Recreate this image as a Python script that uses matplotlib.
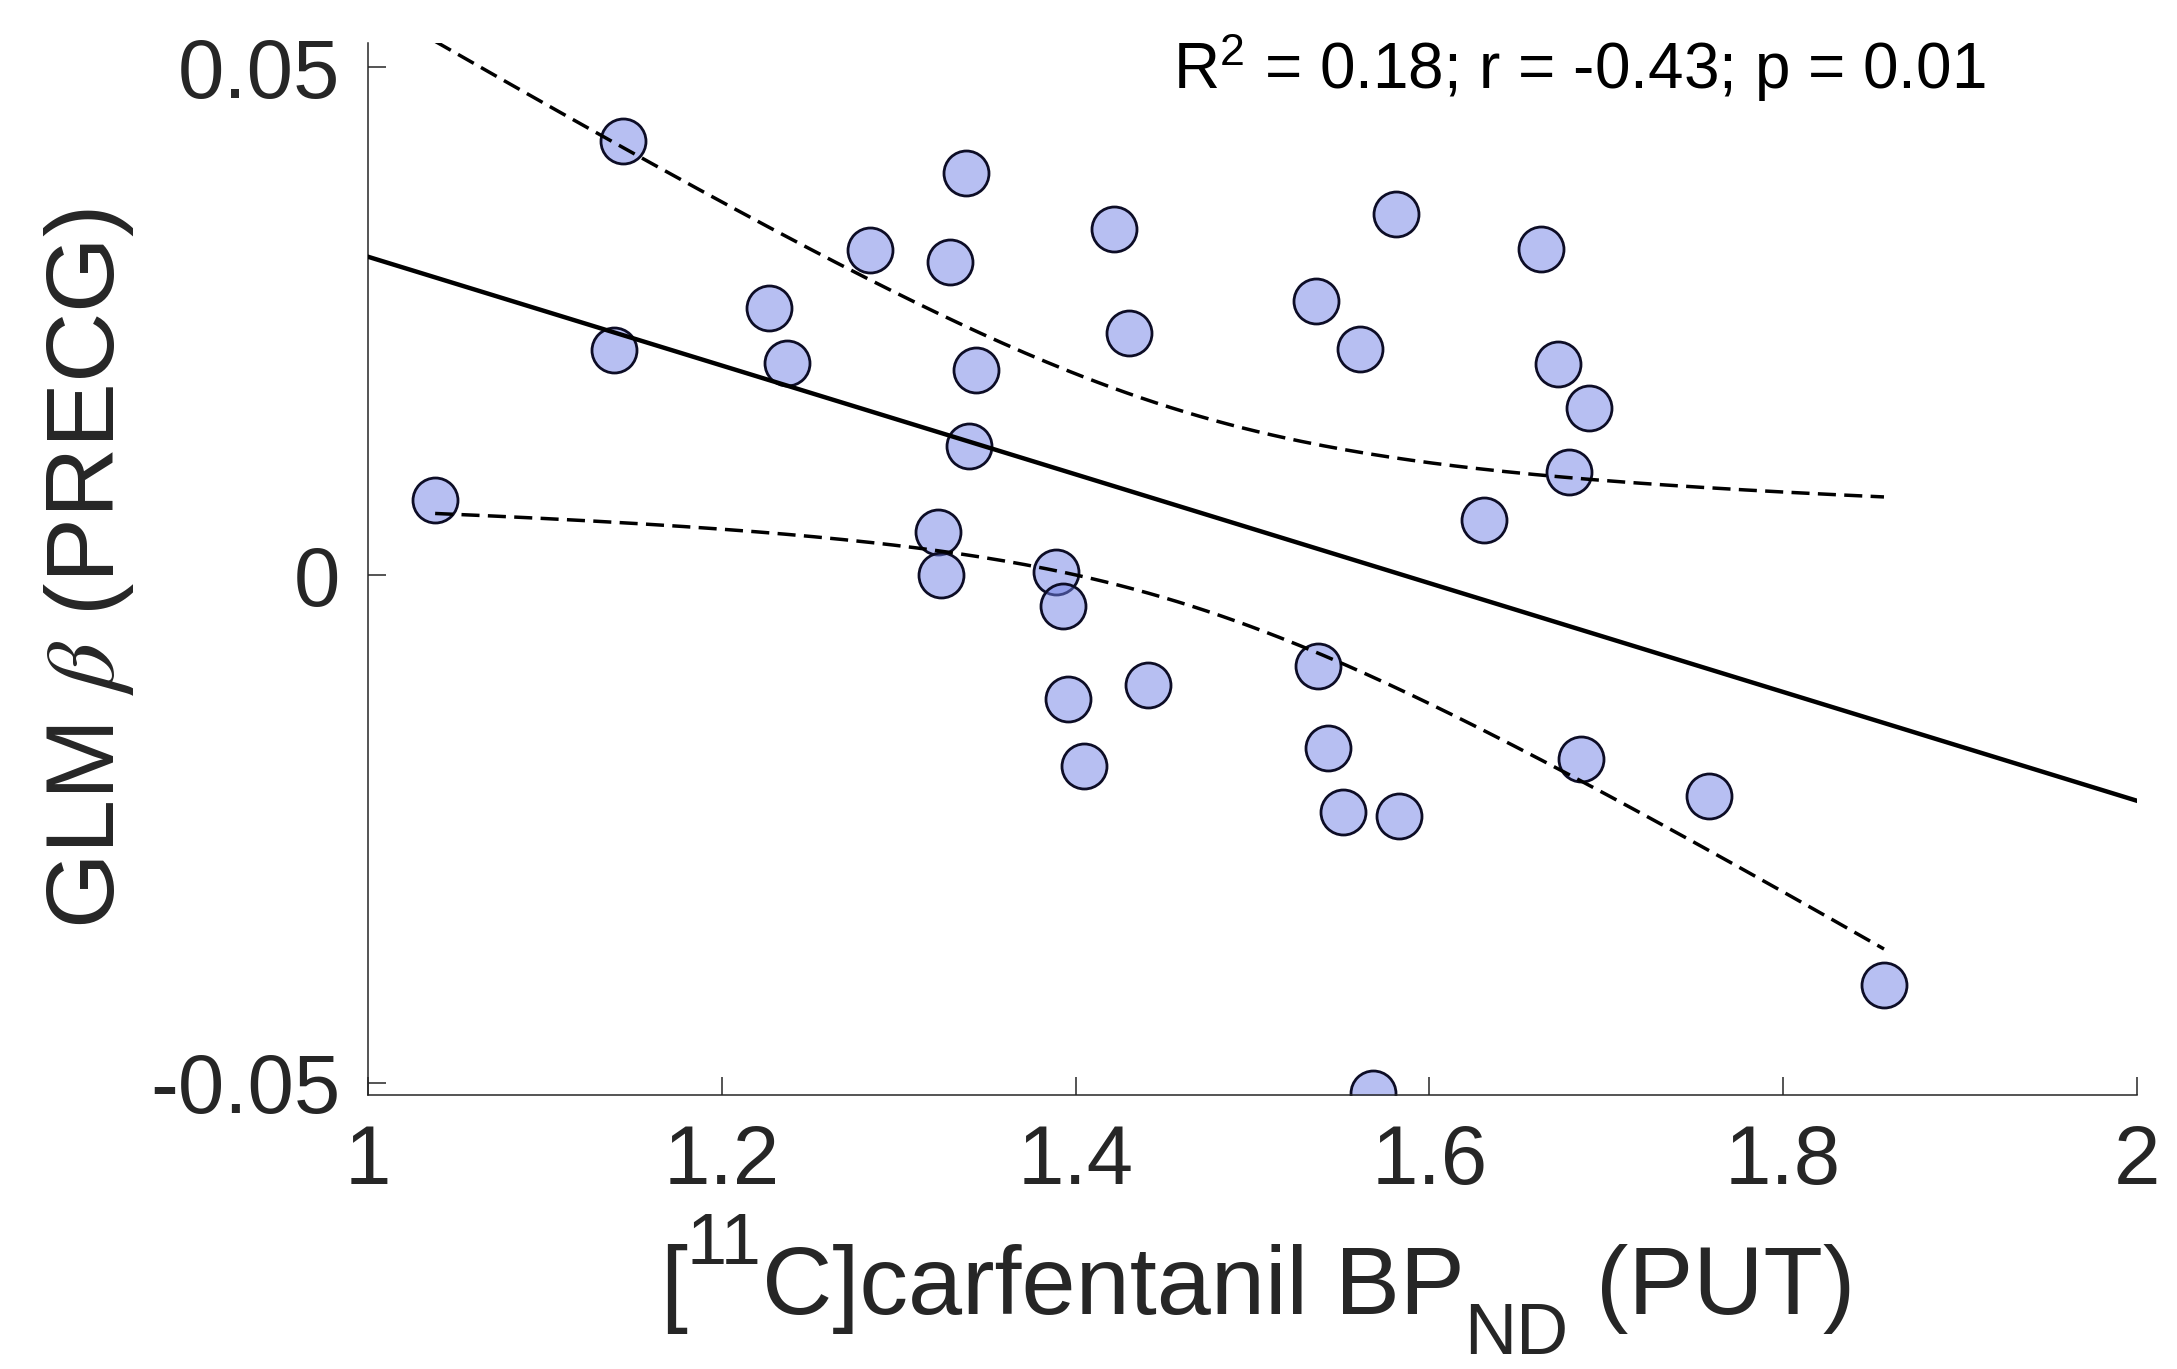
import numpy as np
import matplotlib
matplotlib.use("Agg")
import matplotlib.pyplot as plt

plt.rcParams['font.family'] = ['Liberation Sans', 'DejaVu Sans']
plt.rcParams['mathtext.fontset'] = 'stix'

# [11C]carfentanil BPND (PUT) vs GLM beta (PRECG)
bp_put = [1.038, 1.144, 1.139, 1.227, 1.237, 1.284, 1.338, 1.329, 1.344, 1.340,
          1.322, 1.324, 1.422, 1.430, 1.389, 1.393, 1.396, 1.405, 1.441, 1.581,
          1.536, 1.561, 1.537, 1.543, 1.551, 1.583, 1.568, 1.663, 1.673, 1.690,
          1.679, 1.631, 1.686, 1.758, 1.857]
glm_beta = [0.0074, 0.0427, 0.0222, 0.0263, 0.0209, 0.0320, 0.0396, 0.0308, 0.0202, 0.0127,
            0.0042, 0.0000, 0.0341, 0.0238, 0.0003, -0.0030, -0.0122, -0.0188, -0.0108, 0.0356,
            0.0270, 0.0223, -0.0090, -0.0170, -0.0233, -0.0237, -0.0510, 0.0321, 0.0208, 0.0165,
            0.0101, 0.0054, -0.0181, -0.0218, -0.0404]
stats_text = 'R$\\mathregular{^2}$ = 0.18; r = -0.43; p = 0.01'
x_ticks = [1, 1.2, 1.4, 1.6, 1.8, 2]
y_ticks = [-0.05, 0, 0.05]
y_ticklabels = ['-0.05', '0', '0.05']
# x label pieces: (text, size, vertical shift in points)
xlabel_parts = [('[', 70, 0), ('11', 52, 36), ('C]carfentanil BP', 70, 0),
                ('ND', 52, -29), (' (PUT)', 70, 0)]

x = np.array(bp_put)
y = np.array(glm_beta)

# least squares fit + simultaneous 95% confidence band (like fitlm's plot)
slope, icpt = np.polyfit(x, y, 1)
n = len(x)
resid = y - (slope * x + icpt)
s = np.sqrt(np.sum(resid ** 2) / (n - 2))
sxx = np.sum((x - x.mean()) ** 2)
w95 = np.sqrt(2 * 3.285)   # sqrt(2*F(0.95, 2, n-2))
xs = np.linspace(x.min(), x.max(), 200)
half = w95 * s * np.sqrt(1.0 / n + (xs - x.mean()) ** 2 / sxx)

fig = plt.figure(figsize=(21.77, 13.69), dpi=100)
ax = fig.add_axes([0.1690, 0.2002, 0.8126, 0.7684])

ax.scatter(x, y, s=1050, facecolors=[(0.44, 0.50, 0.90, 0.5)],
           edgecolors='#0d0d26', linewidths=2.0, zorder=2)

xl = np.array([1.0, 2.0])
ax.plot(xl, slope * xl + icpt, color='black', lw=3.2, zorder=3)
ax.plot(xs, slope * xs + icpt + half, color='black', lw=2.5, dashes=(5.2, 2.4), zorder=3)
ax.plot(xs, slope * xs + icpt - half, color='black', lw=2.5, dashes=(5.2, 2.4), zorder=3)

ax.set_xlim(1, 2)
ax.set_ylim(-0.0512, 0.0524)
ax.set_xticks(x_ticks)
ax.set_xticklabels(['1', '1.2', '1.4', '1.6', '1.8', '2'])
ax.set_yticks(y_ticks)
ax.set_yticklabels(y_ticklabels)

for side in ['top', 'right']:
    ax.spines[side].set_visible(False)
for side in ['left', 'bottom']:
    ax.spines[side].set_color('#262626')
    ax.spines[side].set_linewidth(1.1)
ax.tick_params(direction='in', length=13, width=1.1, color='#262626',
               labelsize=60, labelcolor='#262626', pad=20)

ax.set_ylabel('GLM $\\beta$ (PRECG)', fontsize=70, color='#262626')
ax.yaxis.set_label_coords(-0.131, 0.5)

# x label built piece by piece so sub/superscripts sit like MATLAB's
base_y = 55 / 1369.0
prev = fig.text(660 / 2177.0, base_y, xlabel_parts[0][0], fontsize=xlabel_parts[0][1],
                color='#262626', ha='left', va='baseline')
for txt, size, dy in xlabel_parts[1:]:
    prev = ax.annotate(txt, xy=(1, base_y), xycoords=(prev, 'figure fraction'),
                       xytext=(0, dy), textcoords='offset points',
                       fontsize=size, color='#262626', ha='left', va='baseline',
                       annotation_clip=False)

ax.text(0.455, 0.956, stats_text, transform=ax.transAxes, fontsize=46,
        ha='left', va='baseline', color='black')

fig.savefig('out.png', dpi=100)
